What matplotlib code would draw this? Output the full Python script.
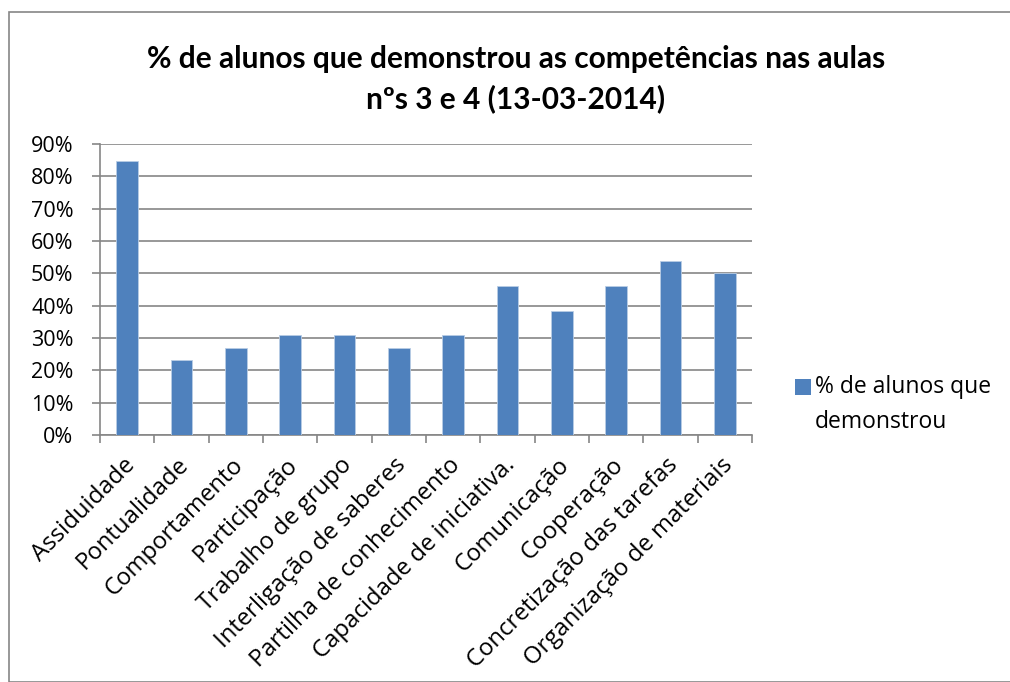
import numpy as np
import matplotlib
matplotlib.use('Agg')
import matplotlib.pyplot as plt
from matplotlib.patches import Rectangle
from matplotlib.transforms import ScaledTranslation

# Dados do gráfico
categorias = ['Assiduidade', 'Pontualidade', 'Comportamento', 'Participação',
              'Trabalho de grupo', 'Interligação de saberes',
              'Partilha de conhecimento', 'Capacidade de iniciativa.',
              'Comunicação', 'Cooperação', 'Concretização das tarefas',
              'Organização de materiais']
valores = [0.846, 0.231, 0.269, 0.308, 0.308, 0.269, 0.308, 0.462,
           0.385, 0.462, 0.538, 0.500]
serie = '% de alunos que\ndemonstrou'
titulo = '% de alunos que demonstrou as competências nas aulas\nnºs 3 e 4 (13-03-2014)'
yticks = np.arange(0, 0.91, 0.1)

plt.rcParams['font.family'] = ['Open Sans', 'DejaVu Sans']
cinza = '#868686'
azul = '#4f81bd'

fig = plt.figure(figsize=(10.1, 6.82), dpi=100)
# moldura exterior
fig.patches.append(Rectangle((9 / 1010, 0), 1.0, 1 - 12 / 682, transform=fig.transFigure,
                             fill=False, edgecolor=cinza, linewidth=1.2))

ax = fig.add_axes([100 / 1010, 1 - 435 / 682, 652 / 1010, 291 / 682])
x = np.arange(len(categorias))
ax.bar(x, valores, width=0.4, color=azul, edgecolor='#b9cde5', linewidth=0.6,
       label=serie, zorder=3)

ax.set_xlim(-0.5, len(categorias) - 0.5)
ax.set_ylim(0, 0.9)
ax.set_yticks(yticks)
ax.set_yticklabels(['%d%%' % round(v * 100) for v in yticks], fontsize=15.5)
ax.grid(axis='y', color=cinza, linewidth=1.2, zorder=0)

# marcas nos limites das categorias, rótulos no centro
ax.set_xticks(np.arange(-0.5, len(categorias)), labels=[])
ax.set_xticks(x, minor=True)
ax.set_xticklabels(categorias, minor=True, rotation=45, ha='right', va='center',
                   rotation_mode='anchor', fontsize=17.2)
ax.tick_params(axis='x', which='minor', length=0, pad=19)
ax.tick_params(axis='x', which='major', length=6, width=1.2, color=cinza)
ax.tick_params(axis='y', length=6, width=1.2, color=cinza, pad=13)
desloc = ScaledTranslation(0.04, 0, fig.dpi_scale_trans)
for lab in ax.get_xticklabels(minor=True):
    lab.set_transform(lab.get_transform() + desloc)

for s in ['top', 'right']:
    ax.spines[s].set_visible(False)
for s in ['left', 'bottom']:
    ax.spines[s].set_color(cinza)
    ax.spines[s].set_linewidth(1.2)

fig.text(516 / 1010, 1 - 79 / 682, titulo, ha='center', va='center',
         fontsize=21.5, fontweight='bold', family=['Lato', 'DejaVu Sans'],
         linespacing=1.5)

# legenda desenhada à mão para alinhar o quadrado com a primeira linha
fig.patches.append(Rectangle((795 / 1010, 1 - 395 / 682), 16 / 1010, 16 / 682,
                             transform=fig.transFigure, facecolor=azul,
                             edgecolor='none'))
fig.text(815 / 1010, 1 - 375 / 682, serie, ha='left', va='top', fontsize=16.5,
         linespacing=1.6)

fig.savefig('out.png', dpi=100)
